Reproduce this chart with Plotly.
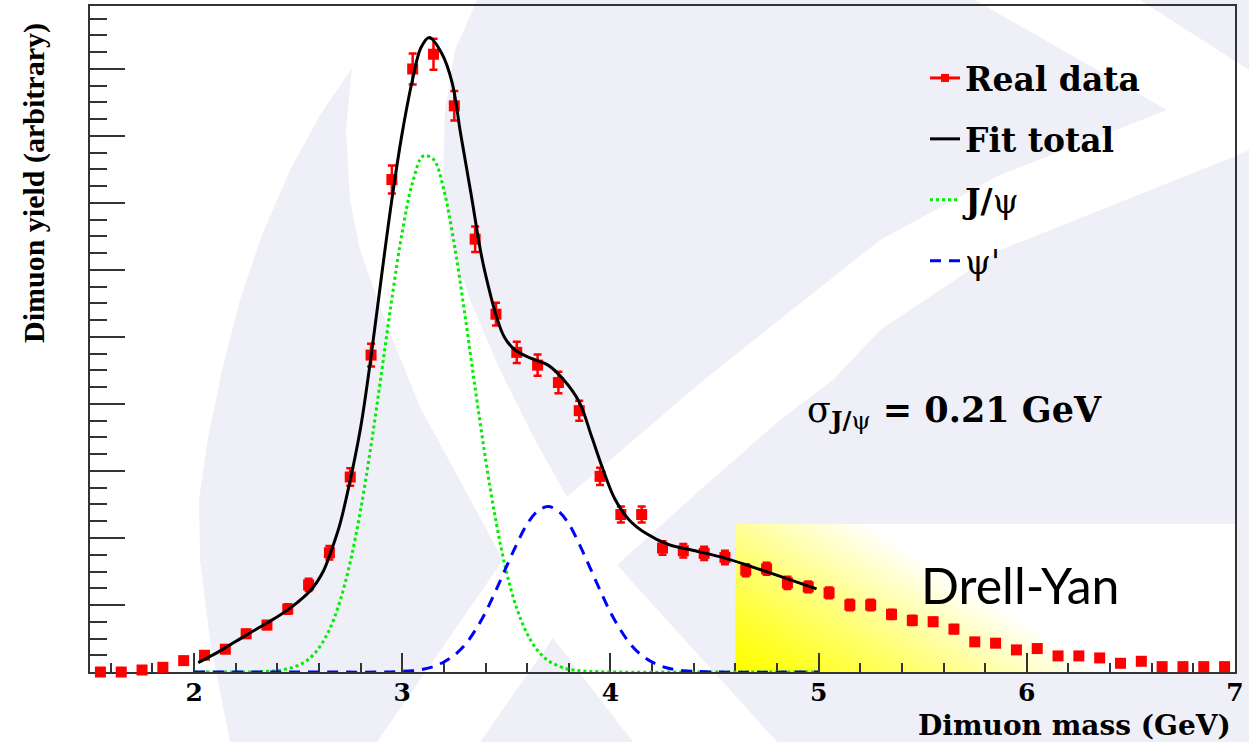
import base64
import struct
import zlib

import numpy as np
import plotly.graph_objects as go

# Dimuon invariant-mass spectrum: bin centres (GeV), yields and errors (arbitrary units)
mass = [1.55, 1.65, 1.75, 1.85, 1.95, 2.05, 2.15, 2.25, 2.35, 2.45,
        2.55, 2.65, 2.75, 2.85, 2.95, 3.05, 3.15, 3.25, 3.35, 3.45,
        3.55, 3.65, 3.75, 3.85, 3.95, 4.05, 4.15, 4.25, 4.35, 4.45,
        4.55, 4.65, 4.75, 4.85, 4.95, 5.05, 5.15, 5.25, 5.35, 5.45,
        5.55, 5.65, 5.75, 5.85, 5.95, 6.05, 6.15, 6.25, 6.35, 6.45,
        6.55, 6.65, 6.75, 6.85, 6.95]
counts = [0.00, 0.00, 0.03, 0.07, 0.17, 0.25, 0.34, 0.57, 0.70, 0.94,
          1.30, 1.78, 2.91, 4.73, 7.35, 9.00, 9.22, 8.45, 6.46, 5.34,
          4.77, 4.58, 4.32, 3.90, 2.92, 2.35, 2.35, 1.85, 1.81, 1.77,
          1.71, 1.52, 1.54, 1.33, 1.27, 1.18, 1.00, 1.00, 0.86, 0.77,
          0.75, 0.64, 0.45, 0.43, 0.33, 0.35, 0.24, 0.24, 0.21, 0.13,
          0.16, 0.08, 0.08, 0.08, 0.08]
errors = [0.01, 0.01, 0.01, 0.02, 0.03, 0.04, 0.04, 0.06, 0.06, 0.07,
          0.09, 0.10, 0.13, 0.17, 0.21, 0.23, 0.23, 0.22, 0.19, 0.17,
          0.16, 0.16, 0.16, 0.15, 0.13, 0.12, 0.12, 0.10, 0.10, 0.10,
          0.10, 0.09, 0.09, 0.09, 0.08, 0.08, 0.08, 0.08, 0.07, 0.07,
          0.06, 0.06, 0.05, 0.05, 0.04, 0.04, 0.04, 0.04, 0.03, 0.03,
          0.03, 0.02, 0.02, 0.02, 0.02]

# Total fit curve
fit_mass = [2.02, 2.10, 2.16, 2.25, 2.35, 2.46, 2.56, 2.62, 2.66, 2.70,
            2.74, 2.80, 2.85, 2.90, 2.95, 3.00, 3.05, 3.09, 3.13, 3.19,
            3.24, 3.28, 3.33, 3.38, 3.41, 3.45, 3.49, 3.54, 3.62, 3.70,
            3.77, 3.85, 3.91, 3.96, 4.02, 4.09, 4.17, 4.28, 4.39, 4.55,
            4.68, 4.84, 4.99]
fit_total = [0.14, 0.27, 0.38, 0.55, 0.73, 0.95, 1.22, 1.50, 1.82, 2.20,
             2.72, 3.65, 4.71, 5.90, 7.05, 8.05, 8.85, 9.32, 9.47, 9.23,
             8.79, 8.04, 7.14, 6.22, 5.80, 5.33, 5.00, 4.81, 4.68, 4.58,
             4.38, 4.03, 3.51, 3.06, 2.59, 2.27, 2.07, 1.90, 1.82, 1.70,
             1.57, 1.40, 1.24]

# J/psi component
jpsi_mass = [2.00, 2.10, 2.20, 2.30, 2.35, 2.40, 2.45, 2.50, 2.55, 2.60,
             2.65, 2.70, 2.75, 2.80, 2.85, 2.90, 2.95, 3.00, 3.05, 3.10,
             3.15, 3.20, 3.25, 3.30, 3.35, 3.40, 3.45, 3.50, 3.55, 3.60,
             3.65, 3.70, 3.75, 3.80, 3.85, 3.90, 4.00, 4.50, 5.00]
jpsi_yield = [0.00, 0.00, 0.00, 0.00, 0.01, 0.02, 0.05, 0.10, 0.19, 0.36,
              0.63, 1.05, 1.64, 2.42, 3.38, 4.46, 5.57, 6.57, 7.31, 7.70,
              7.65, 7.19, 6.38, 5.35, 4.24, 3.18, 2.25, 1.50, 0.95, 0.57,
              0.32, 0.17, 0.09, 0.04, 0.02, 0.01, 0.00, 0.00, 0.00]

# psi' component
psip_mass = [2.00, 2.50, 2.90, 3.00, 3.05, 3.10, 3.15, 3.20, 3.25, 3.30,
             3.35, 3.40, 3.45, 3.50, 3.55, 3.60, 3.65, 3.70, 3.75, 3.80,
             3.85, 3.90, 3.95, 4.00, 4.05, 4.10, 4.15, 4.20, 4.25, 4.30,
             4.35, 4.40, 4.50, 5.00]
psip_yield = [0.00, 0.00, 0.00, 0.01, 0.02, 0.04, 0.08, 0.15, 0.25, 0.40,
              0.62, 0.89, 1.22, 1.57, 1.91, 2.21, 2.40, 2.47, 2.40, 2.21,
              1.91, 1.57, 1.22, 0.89, 0.62, 0.40, 0.25, 0.15, 0.08, 0.04,
              0.02, 0.01, 0.00, 0.00]

x_tick_values = [2, 3, 4, 5, 6, 7]
x_tick_labels = ["2", "3", "4", "5", "6", "7"]

# Drell-Yan window
dy_mass_range = [4.6, 7.0]
dy_height = 2.21

# ---------------------------------------------------------------------------
W, H = 1249, 742
FRAME_L, FRAME_R, FRAME_T, FRAME_B = 90, 1235, 6, 672


def paper_xy(px, py):
    """Pixel position on the page -> paper coordinates of the plot frame."""
    return ((px - FRAME_L) / (FRAME_R - FRAME_L),
            (FRAME_B - py) / (FRAME_B - FRAME_T))


def png_uri(rgb):
    h, w, _ = rgb.shape
    raw = b"".join(b"\x00" + rgb[r].tobytes() for r in range(h))

    def chunk(tag, data):
        body = tag + data
        return (struct.pack(">I", len(data)) + body
                + struct.pack(">I", zlib.crc32(body) & 0xFFFFFFFF))

    png = (b"\x89PNG\r\n\x1a\n"
           + chunk(b"IHDR", struct.pack(">IIBBBBB", w, h, 8, 2, 0, 0, 0))
           + chunk(b"IDAT", zlib.compress(raw, 9))
           + chunk(b"IEND", b""))
    return "data:image/png;base64," + base64.b64encode(png).decode()


# yellow -> white diagonal wash for the Drell-Yan window
gw, gh = 250, 74
gx = np.linspace(0, 500, gw)[None, :]
gy = np.linspace(148, 0, gh)[:, None]
t = np.clip(gx / 370.0 + gy / 230.0, 0, 1) ** 1.15
wash = np.empty((gh, gw, 3), dtype=np.uint8)
wash[..., 0] = 255
wash[..., 1] = 255
wash[..., 2] = (255 * t).astype(np.uint8)
wash_uri = png_uri(wash)

# white swoosh of the page watermark (page pixels)
swoosh = [
    (0, 0), (477, 0), (455, 50), (445, 110), (443, 180), (450, 240), (470, 300),
    (500, 370), (535, 440), (567, 497),
    (700, 383), (880, 240), (1000, 175), (1167, 110), (975, 0), (1140, 0),
    (1249, 70), (1249, 150),
    (1233, 157), (1000, 250), (880, 330), (833, 380), (780, 420), (700, 490),
    (617, 565),
    (777, 742), (633, 742), (553, 638), (480, 742), (377, 742),
    (503, 560), (469, 497), (420, 407), (385, 320), (360, 250), (350, 200),
    (346, 130), (352, 68),
    (320, 115), (290, 170), (262, 235), (240, 300), (222, 370), (207, 443),
    (199, 500), (200, 560), (210, 640), (230, 742),
    (0, 742),
]
pts = [paper_xy(x, y) for x, y in swoosh]
swoosh_path = "M " + " L ".join(f"{x:.4f},{y:.4f}" for x, y in pts) + " Z"

RED = "#FF0000"
serif = "DejaVu Serif"

fig = go.Figure()

fig.add_trace(go.Scatter(
    x=mass, y=counts, mode="markers", showlegend=False, cliponaxis=False,
    marker=dict(symbol="square", size=11, color=RED),
    error_y=dict(type="data", array=errors, visible=True, color=RED,
                 thickness=2.5, width=4),
))
fig.add_trace(go.Scatter(
    x=[None], y=[None], mode="lines+markers", name="<b>Real data</b>",
    legendgroup="data", legendrank=1,
    line=dict(color=RED, width=3), marker=dict(symbol="square", size=8, color=RED),
))
fig.add_trace(go.Scatter(
    x=jpsi_mass, y=jpsi_yield, mode="lines", name="<b>J/</b>ψ",
    legendgroup="jpsi", legendrank=3, cliponaxis=False,
    line=dict(color="#00EE00", width=3, dash="3px,3px", shape="spline"),
))
fig.add_trace(go.Scatter(
    x=psip_mass, y=psip_yield, mode="lines", name="ψ'",
    legendgroup="psip", legendrank=4, cliponaxis=False,
    line=dict(color="#0000FF", width=3, dash="11px,8px", shape="spline"),
))
fig.add_trace(go.Scatter(
    x=fit_mass, y=fit_total, mode="lines", name="<b>Fit total</b>",
    legendgroup="fit", legendrank=2, cliponaxis=False,
    line=dict(color="black", width=3, shape="spline"),
))

axis_col = "#333333"
fig.update_xaxes(
    range=[1.5, 7.0], tickvals=x_tick_values, ticktext=x_tick_labels,
    ticks="inside", ticklen=19, tickwidth=2, tickcolor=axis_col,
    minor=dict(dtick=0.2, ticks="inside", ticklen=9, tickwidth=2, tickcolor=axis_col),
    showline=True, linewidth=2, linecolor=axis_col, mirror=True,
    showgrid=False, zeroline=False, layer="below traces", automargin=False,
    tickfont=dict(family=serif, size=25, color="black", weight="bold"),
    ticklabelstandoff=-3,
)
fig.update_yaxes(
    range=[0, 9.94], tick0=0, dtick=1, showticklabels=False,
    ticks="inside", ticklen=35, tickwidth=2, tickcolor=axis_col,
    minor=dict(dtick=0.25, ticks="inside", ticklen=17, tickwidth=2, tickcolor=axis_col),
    showline=True, linewidth=2, linecolor=axis_col, mirror=True,
    showgrid=False, zeroline=False, layer="below traces", automargin=False,
)

lx, ly = paper_xy(925, 50)
sx, sy = paper_xy(805, 412)
dx, dy = paper_xy(1020, 585)
tx, ty = paper_xy(1233, 725)
yx, yy = paper_xy(34, 183)

fig.update_layout(
    width=W, height=H, template="none",
    margin=dict(l=FRAME_L, r=W - FRAME_R, t=FRAME_T, b=H - FRAME_B, pad=0),
    paper_bgcolor="#EFEFF7", plot_bgcolor="rgba(0,0,0,0)",
    showlegend=True,
    legend=dict(x=lx, y=ly, xanchor="left", yanchor="top",
                bgcolor="rgba(0,0,0,0)", borderwidth=0, tracegroupgap=15,
                font=dict(family=serif, size=33, color="black")),
    shapes=[dict(type="path", xref="paper", yref="paper", path=swoosh_path,
                 fillcolor="white", line=dict(width=0), layer="below")],
    images=[dict(source=wash_uri, xref="x", yref="y",
                 x=dy_mass_range[0], y=dy_height,
                 sizex=dy_mass_range[1] - dy_mass_range[0], sizey=dy_height,
                 sizing="stretch", xanchor="left", yanchor="top", layer="below")],
    annotations=[
        dict(x=sx, y=sy, xref="paper", yref="paper", xanchor="left", yanchor="middle",
             text="σ<sub><b>J/</b>ψ</sub><b> = 0.21 GeV</b>", showarrow=False,
             font=dict(family=serif, size=35, color="black")),
        dict(x=dx, y=dy, xref="paper", yref="paper", xanchor="center", yanchor="middle",
             text="Drell-Yan", showarrow=False,
             font=dict(family="Lato", size=50, color="black")),
        dict(x=tx, y=ty, xref="paper", yref="paper", xanchor="right", yanchor="middle",
             text="<b>Dimuon mass (GeV)</b>", showarrow=False,
             font=dict(family=serif, size=28, color="black")),
        dict(x=yx, y=yy, xref="paper", yref="paper", xanchor="center", yanchor="middle",
             text="<b>Dimuon yield (arbitrary)</b>", textangle=-90, showarrow=False,
             font=dict(family="Liberation Serif", size=30, color="black")),
    ],
)

fig.write_html("out.html")
